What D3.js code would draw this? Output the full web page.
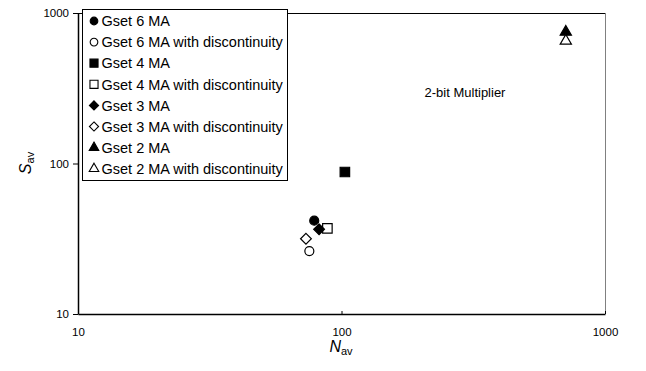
<!DOCTYPE html>
<html><head><meta charset="utf-8">
<script src="https://cdn.jsdelivr.net/npm/d3@7"></script>
<style>body{margin:0;background:#fff}svg{display:block;font-family:"Liberation Sans",Arial,sans-serif}</style>
</head><body><svg id="c" width="646" height="371"></svg>
<script>
const seriesNames = ["Gset 6 MA","Gset 6 MA with discontinuity","Gset 4 MA","Gset 4 MA with discontinuity","Gset 3 MA","Gset 3 MA with discontinuity","Gset 2 MA","Gset 2 MA with discontinuity"];
const seriesShapes = ["circle","circle","square","square","diamond","diamond","triangle","triangle"];
const seriesFilled = [true,false,true,false,true,false,true,false];
const nav = [78.8, 75.5, 103, 88.4, 82.2, 73.3, 710, 710];
const sav = [41.7, 26.2, 87.8, 37.1, 36.5, 31.6, 748, 652];
const xTicks = [10,100,1000];
const yTicks = [10,100,1000];

const svg = d3.select("#c");
const L=78,R=605,T=13,B=314;
const x = d3.scaleLog().domain([10,1000]).range([L,R]);
const y = d3.scaleLog().domain([10,1000]).range([B,T]);

svg.append("line").attr("x1",L).attr("x2",R).attr("y1",T+0.5).attr("y2",T+0.5).attr("stroke","#000");
svg.append("line").attr("x1",R+0.5).attr("x2",R+0.5).attr("y1",T).attr("y2",B).attr("stroke","#808080");

const xa = svg.append("g").attr("transform",`translate(0,${B})`)
  .call(d3.axisBottom(x).tickValues(xTicks).tickFormat(d3.format("d")).tickSizeInner(-3).tickSizeOuter(0).tickPadding(14));
xa.select(".domain").attr("stroke-width",1.5);
xa.selectAll("text").attr("font-size",11.5).attr("fill","#000").attr("font-family","Liberation Sans, Arial, sans-serif");
const ya = svg.append("g").attr("transform",`translate(${L},0)`)
  .call(d3.axisLeft(y).tickValues(yTicks).tickFormat(d3.format("d")).tickSizeInner(5).tickSizeOuter(0).tickPadding(4));
ya.select(".domain").attr("stroke-width",1.5);
ya.selectAll("text").attr("font-size",11.5).attr("fill","#000").attr("font-family","Liberation Sans, Arial, sans-serif");

function sym(shape, s){
  if(shape==="circle") return d3.symbol().type(d3.symbolCircle).size(Math.PI*s*s/4)();
  if(shape==="square") return d3.symbol().type(d3.symbolSquare).size(s*s)();
  if(shape==="triangle") return d3.symbol().type(d3.symbolTriangle).size(s*s*0.45)();
  const h=s*0.6; return `M0,${-h}L${h},0L0,${h}L${-h},0Z`;
}
const mSize = {circle:9, square:9.5, diamond:9, triangle:11};

const pts = seriesNames.map((n,i)=>({n,i,x:nav[i],y:sav[i]}));
svg.append("g").selectAll("path").data(pts).join("path")
  .attr("transform",d=>`translate(${x(d.x)},${y(d.y)})`)
  .attr("d",d=>sym(seriesShapes[d.i],mSize[seriesShapes[d.i]]))
  .attr("fill",d=>seriesFilled[d.i]?"#000":"#fff")
  .attr("stroke","#000").attr("stroke-width",1.2);

const lg = svg.append("g");
lg.append("rect").attr("x",82.5).attr("y",9.5).attr("width",205).attr("height",171).attr("fill","#fff").attr("stroke","#000");
const rows = lg.selectAll("g").data(pts).join("g").attr("transform",(d,i)=>`translate(94,${21+i*21.1})`);
rows.append("path").attr("d",d=>sym(seriesShapes[d.i],mSize[seriesShapes[d.i]]*0.85))
  .attr("fill",d=>seriesFilled[d.i]?"#000":"#fff").attr("stroke","#000").attr("stroke-width",1.1);
rows.append("text").attr("x",7.5).attr("dy","0.36em").attr("font-size",14.5).text(d=>d.n);

svg.append("text").attr("x",465).attr("y",97).attr("text-anchor","middle").attr("font-size",13).text("2-bit Multiplier");

const xt = svg.append("text").attr("x",341).attr("y",352).attr("text-anchor","middle");
xt.append("tspan").attr("font-size",16).attr("font-style","italic").text("N");
xt.append("tspan").attr("font-size",11).attr("dy",3).text("av");
const yt = svg.append("text").attr("transform","translate(31,163) rotate(-90)").attr("text-anchor","middle");
yt.append("tspan").attr("font-size",16).attr("font-style","italic").text("S");
yt.append("tspan").attr("font-size",11).attr("dy",3).text("av");
</script></body></html>
